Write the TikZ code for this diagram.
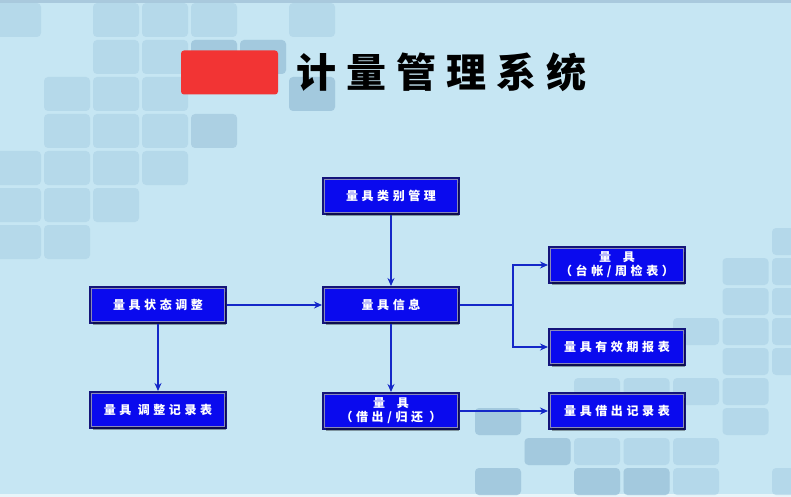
\documentclass[tikz,border=0pt]{standalone}
\usepackage{fontspec}
\newfontfamily\cjk{Noto Sans CJK SC}
\usetikzlibrary{arrows.meta,shadows}
\definecolor{bgcol}{HTML}{C6E6F3}
\definecolor{tilecol}{HTML}{A6CDE3}
\definecolor{tiledark}{HTML}{93BBD4}
\definecolor{boxblue}{HTML}{0A0AEE}
\definecolor{boxnavy}{HTML}{14147A}
\definecolor{boxline}{HTML}{8A8AB8}
\definecolor{linecol}{HTML}{1428C8}
\definecolor{blobred}{HTML}{F23434}
\tikzset{
  tileL/.style={fill=tilecol, rounded corners=4pt, opacity=0.5},
  tileR/.style={fill=tilecol, rounded corners=4pt, opacity=0.55},
  tileD/.style={fill=tiledark, rounded corners=4pt, opacity=0.5},
  box/.style={fill=boxblue, draw=boxline, line width=0.8pt,
    preaction={draw=boxnavy, line width=5pt},
    drop shadow={shadow xshift=1pt, shadow yshift=-3pt, fill=black, opacity=0.35},
    minimum width=133pt, minimum height=33pt, inner sep=0pt, outer sep=2.5pt,
    text=white, align=center,
    font=\cjk\bfseries\addfontfeature{LetterSpace=30}\fontsize{12}{14}\selectfont},
  conn/.style={draw=linecol, line width=1.8pt, -{Stealth[length=8pt,width=7pt]}},
  plain/.style={draw=linecol, line width=1.8pt},
}
\begin{document}
\begin{tikzpicture}[x=1pt,y=-1pt]
\fill[bgcol] (0,0) rectangle (791,497);
\useasboundingbox (0,0) rectangle (791,497);
\fill[tiledark!80] (0,0) rectangle (791,3);
\fill[white!60!bgcol] (0,494) rectangle (791,497);
% left background tiles (col,row)
\foreach \c/\r in {0/0,2/0,3/0,4/0,6/0, 2/1,3/1,4/1,5/1, 1/2,2/2,3/2,6/2, 1/3,2/3,3/3, 0/4,1/4,2/4,3/4, 0/5,1/5,2/5, 0/6,1/6}
  \path[tileL] ({-5+49*\c},{3+37*\r}) rectangle ++(46,34);
\foreach \c/\r in {4/1,5/1,4/3,6/2}
  \path[tileD] ({-5+49*\c},{3+37*\r}) rectangle ++(46,34);
% right background tiles
\foreach \c/\r in {6/0, 5/1,6/1, 5/2,6/2, 4/3,5/3,6/3, 5/4,6/4, 2/5,3/5,4/5,5/5, 0/6,5/6, 1/7,2/7,3/7,4/7, 0/8,2/8,3/8,4/8,6/8}
  \path[tileR] ({475+49.5*\c},{228+30*\r}) rectangle ++(46,27);
\foreach \c/\r in {0/6,1/7,0/8,2/8,3/8}
  \path[tileD] ({475+49.5*\c},{228+30*\r}) rectangle ++(46,27);
% title
\node[fill=blobred, rounded corners=3pt, minimum width=97pt, minimum height=44pt, inner sep=0pt] (blob) at (229.5,72.5) {};
\node[anchor=west, inner sep=0pt, text=black,
  font=\cjk\bfseries\addfontfeature{LetterSpace=25}\fontsize{40}{40}\selectfont] (title) at (296,72) {计量管理系统};
% boxes
\node[box] (cat) at (391,196) {量具类别管理};
\node[box] (state) at (158,305) {量具状态调整};
\node[box] (info) at (391,305) {量具信息};
\node[box] (ledger) at (617,265) {量\quad 具\\（台帐/周检表）};
\node[box] (valid) at (617,347) {量具有效期报表};
\node[box] (adj) at (158,410) {量具 调整记录表};
\node[box] (lend) at (391,411) {量\quad 具\\（借出/归还 ）};
\node[box] (lendrec) at (617,411) {量具借出记录表};
% connectors
\coordinate (j) at (513,305);
\draw[conn] (cat) -- (info);
\draw[conn] (state) -- (info);
\draw[conn] (state) -- (adj);
\draw[conn] (info) -- (lend);
\draw[plain] (info.east) -- (j);
\draw[conn] (j) |- (ledger.west);
\draw[conn] (j) |- (valid.west);
\draw[conn] (lend) -- (lendrec);
\end{tikzpicture}
\end{document}
